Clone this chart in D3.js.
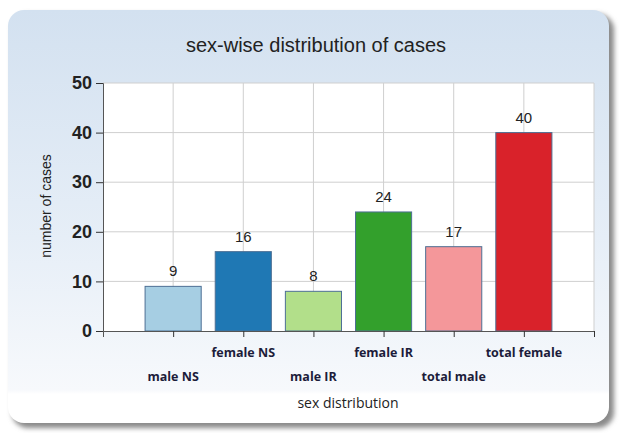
<!DOCTYPE html>
<html>
<head>
<meta charset="utf-8">
<script src="https://d3js.org/d3.v7.min.js"></script>
<style>
  body { margin: 0; background: #fff; }
  svg { display: block; }
</style>
</head>
<body>
<svg id="chart" width="619" height="433"></svg>
<script>
// chart data
const categories = ['male NS', 'female NS', 'male IR', 'female IR', 'total male', 'total female'];
const cases = [9, 16, 8, 24, 17, 40];
const barColors = ['#a6cee3', '#1f78b4', '#b2df8a', '#33a02c', '#f4979a', '#d9222a'];
const yTicks = [0, 10, 20, 30, 40, 50];

const svg = d3.select('#chart');
const plot = { left: 103, right: 594, top: 83, bottom: 331 };

// panel background with gradient + shadow
const defs = svg.append('defs');
const grad = defs.append('linearGradient').attr('id', 'bg').attr('x1', 0).attr('y1', 0).attr('x2', 0).attr('y2', 1);
grad.append('stop').attr('offset', '0%').attr('stop-color', '#d3e1f0');
grad.append('stop').attr('offset', '55%').attr('stop-color', '#e6eef7');
grad.append('stop').attr('offset', '92%').attr('stop-color', '#f7f9fc');
grad.append('stop').attr('offset', '93%').attr('stop-color', '#ffffff');
const blur = defs.append('filter').attr('id', 'shadow').attr('x', -0.05).attr('y', -0.05).attr('width', 1.1).attr('height', 1.1);
blur.append('feGaussianBlur').attr('stdDeviation', 2.5);

svg.append('rect')
    .attr('x', 12).attr('y', 14).attr('width', 602).attr('height', 414)
    .attr('rx', 16).attr('fill', '#8a8a8a').attr('filter', 'url(#shadow)');
svg.append('rect')
    .attr('x', 8).attr('y', 10).attr('width', 601).attr('height', 413)
    .attr('rx', 16).attr('fill', 'url(#bg)');

// scales
const x = d3.scaleLinear().domain([0, categories.length + 1]).range([plot.left, plot.right]);
const y = d3.scaleLinear().domain([0, 50]).range([plot.bottom, plot.top]);

svg.append('rect')
    .attr('x', plot.left).attr('y', plot.top)
    .attr('width', plot.right - plot.left).attr('height', plot.bottom - plot.top)
    .attr('fill', '#fff');

// grid
const grid = svg.append('g').attr('stroke', '#cfcfcf').attr('stroke-width', 1);
d3.range(1, categories.length + 2).forEach(i => {
    grid.append('line').attr('x1', x(i)).attr('x2', x(i)).attr('y1', plot.top).attr('y2', plot.bottom);
});
yTicks.slice(1).forEach(t => {
    grid.append('line').attr('x1', plot.left).attr('x2', plot.right).attr('y1', y(t)).attr('y2', y(t));
});

// bars
const step = x(1) - x(0);
const barW = step * 0.8;
svg.append('g').selectAll('rect')
    .data(cases)
    .join('rect')
    .attr('x', (d, i) => x(i + 1) - barW / 2)
    .attr('y', d => y(d))
    .attr('width', barW)
    .attr('height', d => y(0) - y(d))
    .attr('fill', (d, i) => barColors[i])
    .attr('stroke', '#4d6f94')
    .attr('stroke-width', 1);

// value labels
svg.append('g').selectAll('text')
    .data(cases)
    .join('text')
    .attr('x', (d, i) => x(i + 1))
    .attr('y', d => y(d) - 10)
    .attr('text-anchor', 'middle')
    .attr('font-family', 'Liberation Sans, Arial, sans-serif')
    .attr('font-size', 15)
    .attr('fill', '#222')
    .text(d => d);

// y axis
const yAxis = svg.append('g')
    .attr('transform', `translate(${plot.left},0)`)
    .call(d3.axisLeft(y).tickValues(yTicks).tickSize(7).tickPadding(4));
yAxis.select('.domain').attr('stroke', '#555');
yAxis.selectAll('.tick line').attr('stroke', '#333');
yAxis.selectAll('.tick text')
    .attr('font-family', 'Liberation Sans, Arial, sans-serif')
    .attr('font-size', 18).attr('font-weight', 'bold').attr('fill', '#222');

// x axis
const xAxis = svg.append('g')
    .attr('transform', `translate(0,${plot.bottom})`)
    .call(d3.axisBottom(x).tickValues(d3.range(0, categories.length + 2)).tickSize(6).tickFormat(''));
xAxis.select('.domain').attr('stroke', '#555');
xAxis.selectAll('.tick line').attr('stroke', '#333');
xAxis.selectAll('.tick').filter(d => d === 0).remove();

svg.append('g').selectAll('text')
    .data(categories)
    .join('text')
    .attr('x', (d, i) => x(i + 1))
    .attr('y', (d, i) => i % 2 === 1 ? 357 : 381)
    .attr('text-anchor', 'middle')
    .attr('font-family', 'Open Sans, DejaVu Sans, sans-serif')
    .attr('font-size', 12.5)
    .attr('font-weight', 'bold')
    .attr('fill', '#1c1c3a')
    .text(d => d);

// titles
svg.append('text')
    .attr('x', 316).attr('y', 52)
    .attr('text-anchor', 'middle')
    .attr('font-family', 'Liberation Sans, Arial, sans-serif')
    .attr('font-size', 20)
    .attr('fill', '#222')
    .text('sex-wise distribution of cases');

svg.append('text')
    .attr('x', 348).attr('y', 408)
    .attr('text-anchor', 'middle')
    .attr('font-family', 'Open Sans, DejaVu Sans, sans-serif')
    .attr('font-size', 14)
    .attr('fill', '#222')
    .text('sex distribution');

svg.append('text')
    .attr('transform', 'translate(51,206) rotate(-90)')
    .attr('text-anchor', 'middle')
    .attr('font-family', 'Liberation Sans, Arial, sans-serif')
    .attr('font-size', 14)
    .attr('fill', '#222')
    .text('number of cases');
</script>
</body>
</html>
